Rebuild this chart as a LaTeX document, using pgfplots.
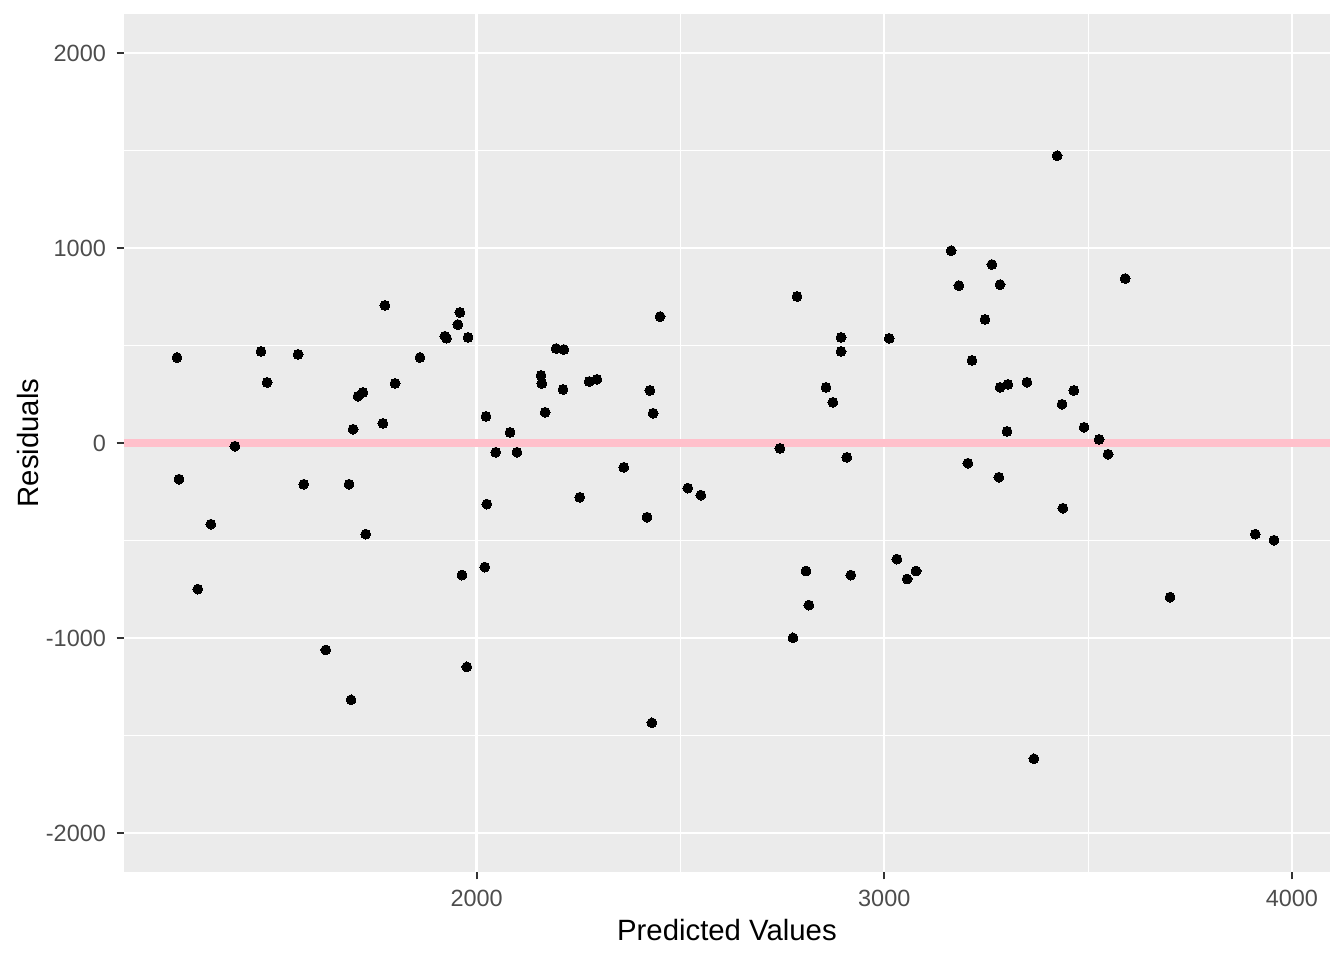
\documentclass[border=0pt]{standalone}
\usepackage{pgfplots}
\pgfplotsset{compat=1.18}
\usepackage{fontspec}
\setmainfont{Liberation Sans}
\definecolor{panelbg}{HTML}{EBEBEB}
\definecolor{tickgray}{HTML}{4D4D4D}
\definecolor{tickmark}{HTML}{333333}
\definecolor{hlinepink}{HTML}{FFC0CB}
\begin{document}
\begin{tikzpicture}
\useasboundingbox (-46.5pt,-33pt) rectangle (457.5pt,327pt);
\begin{axis}[
  at={(0,0)}, anchor=south west,
  scale only axis,
  width=452.2pt, height=321.7pt,
  xmin=1135, xmax=4093, ymin=-2200, ymax=2200,
  xtick={2000,3000,4000},
  ytick={-2000,-1000,0,1000,2000},
  minor x tick num=1, minor y tick num=1,
  grid=both,
  major grid style={white, line width=0.85pt},
  minor grid style={white, line width=0.45pt},
  axis background/.style={fill=panelbg},
  axis line style={draw=none},
  tick align=outside,
  major tick length=2.75pt,
  minor tick length=0pt,
  tick style={tickmark, line width=0.75pt},
  xtick pos=bottom, ytick pos=left,
  /pgf/number format/assume math mode=true,
  /pgf/number format/set thousands separator={},
  ticklabel style={font=\fontsize{8.8}{10}\selectfont, text=tickgray},
  xticklabel style={yshift=-0.5pt},
  yticklabel style={xshift=-0.5pt},
  xlabel={Predicted Values},
  ylabel={Residuals},
  xlabel style={at={(axis description cs:0.5,0)}, anchor=center, yshift=-21.7pt, font=\fontsize{11}{13}\selectfont},
  ylabel style={at={(axis description cs:0,0.5)}, anchor=center, font=\fontsize{11}{13}\selectfont},
  every axis y label/.append style={yshift=36pt},
  clip=true,
]
\addplot[only marks, mark=*, mark size=1.85pt, mark options={fill=black, draw=black, line width=0pt}] table {
x y
1265 439
1270 -185
1316 -749
1348 -416
1407 -16
1471 470
1486 311
1562 455
1576 -211
1630 -1061
1687 -211
1692 -1317
1697 71
1709 240
1721 260
1728 -467
1770 101
1775 706
1800 306
1861 439
1922 548
1926 538
1954 608
1959 670
1964 -677
1979 542
1976 -1148
2023 137
2020 -636
2025 -313
2047 -47
2082 55
2099 -47
2158 347
2160 306
2168 158
2195 485
2214 480
2212 275
2253 -278
2276 316
2295 327
2361 -124
2418 -380
2425 270
2430 -1435
2433 153
2450 649
2518 -231
2550 -267
2744 -27
2776 -999
2786 752
2808 -656
2815 -831
2857 286
2874 209
2894 542
2894 470
2908 -73
2918 -677
3012 537
3031 -595
3056 -697
3078 -656
3164 987
3183 808
3205 -103
3215 424
3247 634
3264 916
3284 813
3284 286
3281 -175
3303 301
3301 60
3350 312
3367 -1619
3424 1474
3436 199
3438 -334
3465 270
3490 81
3527 19
3549 -57
3591 844
3701 -790
3910 -467
3956 -498
};
\addplot[hlinepink, line width=2.75pt] coordinates {(1135,0) (4093,0)};
\end{axis}
\end{tikzpicture}
\end{document}
